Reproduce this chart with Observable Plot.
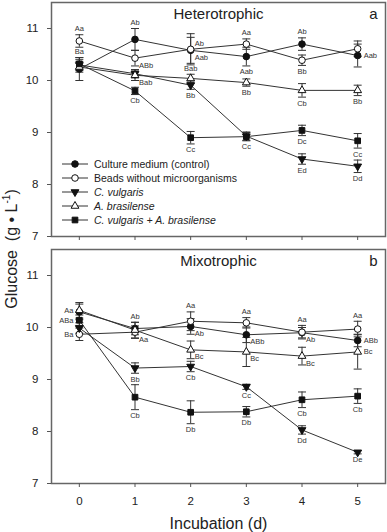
<!DOCTYPE html>
<html><head><meta charset="utf-8">
<script src="https://cdn.jsdelivr.net/npm/d3@7"></script>
<script src="https://cdn.jsdelivr.net/npm/@observablehq/plot@0.6"></script>
<style>
body{margin:0;background:#fff;}
#wrap{position:relative;width:387px;height:532px;font-family:"Liberation Sans",Arial,sans-serif;color:#222;overflow:hidden;}
#top,#bot{position:absolute;left:0;}
#top{top:0px} #bot{top:247px}
#ylab{position:absolute;left:11px;top:249px;transform:translate(-50%,-50%) rotate(-90deg);white-space:nowrap;font-size:16px;}
#ylab sup{font-size:10px;}
#legend{position:absolute;left:61px;top:157px;font-size:10.5px;color:#222;}
.row{height:14px;display:flex;align-items:center;white-space:nowrap;}
.row svg{margin-right:5px;}
</style></head>
<body><div id="wrap"><div id="top"></div><div id="bot"></div>
<div id="ylab">Glucose&nbsp; (g&nbsp;•&nbsp;L<sup>-1</sup>)</div><div id="legend"></div></div>
<script>
// ---------- data ----------
const days = [0, 1, 2, 3, 4, 5];
const seriesKeys = ["control", "beads", "cvul", "abras", "mix"];
const seriesNames = ["Culture medium (control)", "Beads without microorganisms", "C. vulgaris", "A. brasilense", "C. vulgaris + A. brasilense"];
const seriesItalic = [false, false, true, true, true];
const yTicks = [7, 8, 9, 10, 11];

// Heterotrophic
const heteroControl = [10.22, 10.79, 10.58, 10.46, 10.70, 10.48];
const heteroBeads   = [10.76, 10.43, 10.60, 10.70, 10.39, 10.61];
const heteroCvul    = [10.30, 10.13, 9.91, 8.93, 8.49, 8.35];
const heteroAbras   = [10.26, 10.10, 10.04, 9.96, 9.81, 9.81];
const heteroMix     = [10.32, 9.80, 8.90, 8.92, 9.04, 8.84];
const heteroControlErr = [0.22, 0.21, 0.25, 0.18, 0.12, 0.22];
const heteroBeadsErr   = [0.12, 0.15, 0.30, 0.10, 0.10, 0.15];
const heteroCvulErr    = [0.10, 0.08, 0.08, 0.08, 0.10, 0.12];
const heteroAbrasErr   = [0.10, 0.10, 0.08, 0.07, 0.13, 0.10];
const heteroMixErr     = [0.12, 0.07, 0.12, 0.08, 0.10, 0.14];
const heteroControlLab = ["Ba", "Ab", "Aab", "Aab", "Ab", "Aab"];
const heteroBeadsLab   = ["Aa", "ABb", "Ab", "Aa", "Bb", ""];
const heteroCvulLab    = ["", "", "Bb", "", "Ed", "Dd"];
const heteroAbrasLab   = ["", "Bab", "Bab", "Bb", "Cb", "Bb"];
const heteroMixLab     = ["", "Cb", "Cc", "Cc", "Dc", "Cc"];
const heteroControlPos = ["t", "t", "rb", "b", "t", "r"];
const heteroBeadsPos   = ["t", "rb", "rt", "t", "b", ""];
const heteroCvulPos    = ["", "", "b", "", "b", "b"];
const heteroAbrasPos   = ["", "rb", "t", "b", "b", "b"];
const heteroMixPos     = ["", "b", "b", "b", "b", "b"];

// Mixotrophic
const mixoControl = [10.30, 9.98, 10.02, 9.86, 9.90, 9.75];
const mixoBeads   = [9.87, 9.91, 10.12, 10.09, 9.91, 9.97];
const mixoCvul    = [9.99, 9.22, 9.25, 8.86, 8.03, 7.60];
const mixoAbras   = [10.33, 9.95, 9.57, 9.53, 9.45, 9.53];
const mixoMix     = [10.14, 8.66, 8.37, 8.38, 8.61, 8.68];
const mixoControlErr = [0.15, 0.12, 0.15, 0.15, 0.10, 0.12];
const mixoBeadsErr   = [0.12, 0.12, 0.18, 0.10, 0.13, 0.15];
const mixoCvulErr    = [0.10, 0.10, 0.10, 0.05, 0.08, 0.03];
const mixoAbrasErr   = [0.15, 0.15, 0.17, 0.28, 0.17, 0.33];
const mixoMixErr     = [0.10, 0.24, 0.22, 0.10, 0.15, 0.14];
const mixoControlLab = ["", "Ab", "Ab", "ABb", "Ab", "ABb"];
const mixoBeadsLab   = ["Ba", "Aa", "Aa", "Aa", "Aa", "Aa"];
const mixoCvulLab    = ["", "Bb", "Cb", "Cc", "Dd", "De"];
const mixoAbrasLab   = ["Aa", "", "Bc", "Bc", "Bc", "Bc"];
const mixoMixLab     = ["ABa", "Cb", "Db", "Db", "Cb", "Cb"];
const mixoControlPos = ["", "t", "rb", "rb", "rb", "r"];
const mixoBeadsPos   = ["l", "rb", "t", "t", "t", "t"];
const mixoCvulPos    = ["", "b", "b", "b", "b", "b"];
const mixoAbrasPos   = ["l", "", "rb", "rb", "rb", "r"];
const mixoMixPos     = ["l", "b", "b", "b", "b", "b"];

// ---------- styles ----------
const FONT = '"Liberation Sans", Arial, sans-serif';
const INK = "#222";
const styles = {
  control: {symbol: "circle", fill: "#111", r: 3.3, rotate: 0},
  beads:   {symbol: "circle", fill: "#fff", r: 3.3, rotate: 0},
  cvul:    {symbol: "triangle", fill: "#111", r: 2.9, rotate: 180},
  abras:   {symbol: "triangle", fill: "#fff", r: 2.9, rotate: 0},
  mix:     {symbol: "square", fill: "#111", r: 3.2, rotate: 0}
};
const capSymbol = {draw(ctx, size) { const w = Math.sqrt(size / Math.PI); ctx.moveTo(-w, 0); ctx.lineTo(w, 0); }};

function rows(key, vals, errs, labs, pos) {
  return days.map((d, i) => ({day: d, value: vals[i], err: errs[i], label: labs[i], pos: pos[i], key}));
}

const heteroSeries = [
  rows("control", heteroControl, heteroControlErr, heteroControlLab, heteroControlPos),
  rows("beads", heteroBeads, heteroBeadsErr, heteroBeadsLab, heteroBeadsPos),
  rows("cvul", heteroCvul, heteroCvulErr, heteroCvulLab, heteroCvulPos),
  rows("abras", heteroAbras, heteroAbrasErr, heteroAbrasLab, heteroAbrasPos),
  rows("mix", heteroMix, heteroMixErr, heteroMixLab, heteroMixPos)
];
const mixoSeries = [
  rows("control", mixoControl, mixoControlErr, mixoControlLab, mixoControlPos),
  rows("beads", mixoBeads, mixoBeadsErr, mixoBeadsLab, mixoBeadsPos),
  rows("cvul", mixoCvul, mixoCvulErr, mixoCvulLab, mixoCvulPos),
  rows("abras", mixoAbras, mixoAbrasErr, mixoAbrasLab, mixoAbrasPos),
  rows("mix", mixoMix, mixoMixErr, mixoMixLab, mixoMixPos)
];

function panel(series, title, letter, bottom) {
  const all = series.flat();
  const lab = {fontSize: 7.5, fill: "#333", fontFamily: FONT};
  const marks = [
    Plot.frame({stroke: "#666", strokeWidth: 1.5}),
    Plot.axisY({ticks: yTicks, tickSize: 4, tickPadding: 9, label: null, stroke: "#555", tickFormat: d => d}),
    Plot.axisX({ticks: days, tickSize: 4, tickPadding: 9, label: null, stroke: "#555", tickFormat: bottom ? (d => d) : (() => "")}),
  ];
  for (const s of series) marks.push(Plot.line(s, {x: "day", y: "value", stroke: "#333", strokeWidth: 1}));
  marks.push(Plot.ruleX(all, {x: "day", y1: d => d.value - d.err, y2: d => d.value + d.err, stroke: "#333", strokeWidth: 1}));
  marks.push(Plot.dot(all, {x: "day", y: d => d.value + d.err, symbol: capSymbol, r: 4, stroke: "#333", fill: "none", strokeWidth: 1}));
  marks.push(Plot.dot(all, {x: "day", y: d => d.value - d.err, symbol: capSymbol, r: 4, stroke: "#333", fill: "none", strokeWidth: 1}));
  for (const s of series) {
    const st = styles[s[0].key];
    marks.push(Plot.dot(s, {x: "day", y: "value", symbol: st.symbol, fill: st.fill, stroke: "#111", strokeWidth: 1, r: st.r, rotate: st.rotate}));
  }
  const f = p => all.filter(d => d.pos === p && d.label);
  marks.push(Plot.text(f("t"), {x: "day", y: d => d.value + d.err, text: "label", dy: -6, ...lab}));
  marks.push(Plot.text(f("b"), {x: "day", y: d => d.value - d.err, text: "label", dy: 6, ...lab}));
  marks.push(Plot.text(f("r"), {x: "day", y: "value", text: "label", dx: 6, textAnchor: "start", ...lab}));
  marks.push(Plot.text(f("rb"), {x: "day", y: "value", text: "label", dx: 4, dy: 7, textAnchor: "start", ...lab}));
  marks.push(Plot.text(f("rt"), {x: "day", y: "value", text: "label", dx: 4, dy: -6, textAnchor: "start", ...lab}));
  marks.push(Plot.text(f("l"), {x: "day", y: "value", text: "label", dx: -6, textAnchor: "end", ...lab}));
  marks.push(Plot.text([title], {text: d => d, frameAnchor: "top", dy: 12, lineAnchor: "middle", fontSize: 15, fill: INK}));
  marks.push(Plot.text([letter], {text: d => d, frameAnchor: "top-right", dx: -12, dy: 12, lineAnchor: "middle", textAnchor: "middle", fontSize: 15, fill: INK}));
  if (bottom) marks.push(Plot.text(["Incubation (d)"], {text: d => d, frameAnchor: "bottom", dy: 40, lineAnchor: "middle", fontSize: 16, fill: INK}));
  return Plot.plot({
    width: 387, height: bottom ? 285 : 246,
    marginLeft: 51, marginRight: 2, marginTop: 2, marginBottom: bottom ? 49 : 10,
    x: {domain: [-0.5, 5.5]}, y: {domain: [7, 11.5]},
    style: {fontFamily: FONT, fontSize: "11.5px", color: INK, background: "white", overflow: "visible"},
    marks
  });
}

document.getElementById("top").append(panel(heteroSeries, "Heterotrophic", "a", false));
document.getElementById("bot").append(panel(mixoSeries, "Mixotrophic", "b", true));

// legend
const leg = d3.select("#legend");
seriesKeys.forEach((k, i) => {
  const st = styles[k];
  const row = leg.append("div").attr("class", "row");
  const svg = row.append("svg").attr("width", 28).attr("height", 12);
  svg.append("line").attr("x1", 1).attr("x2", 27).attr("y1", 6).attr("y2", 6).attr("stroke", "#333");
  const symType = st.symbol === "circle" ? d3.symbolCircle : st.symbol === "square" ? d3.symbolSquare : d3.symbolTriangle;
  svg.append("path").attr("d", d3.symbol(symType, Math.PI * st.r * st.r)())
    .attr("transform", `translate(14,6) rotate(${st.rotate})`)
    .attr("fill", st.fill).attr("stroke", "#111");
  row.append("span").text(seriesNames[i]).style("font-style", seriesItalic[i] ? "italic" : "normal");
});
</script></body></html>
